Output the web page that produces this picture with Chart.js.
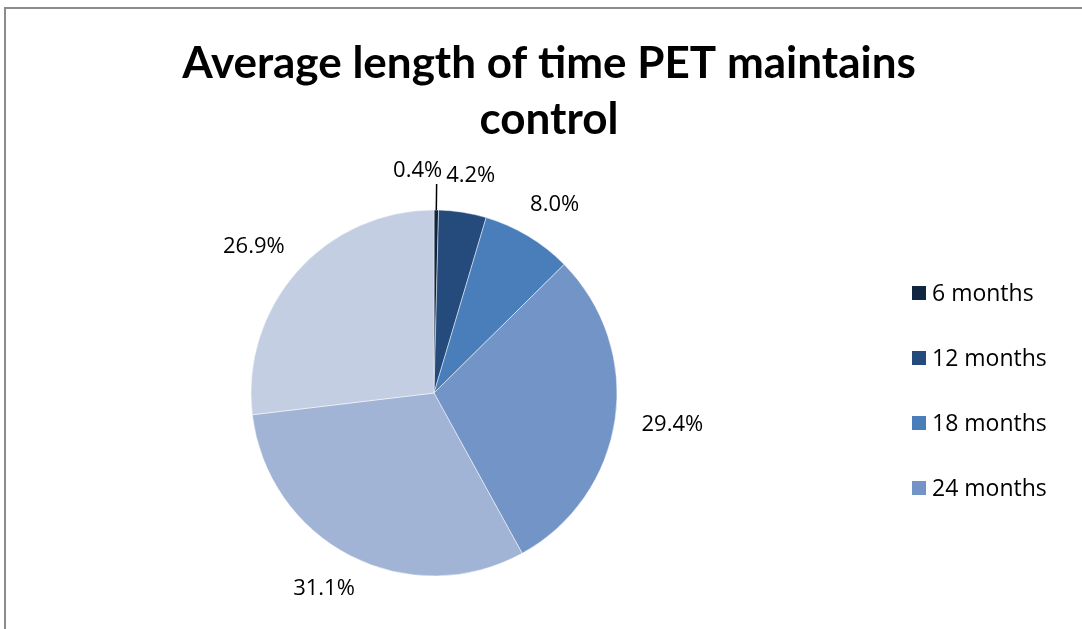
<!DOCTYPE html>
<html>
<head>
<meta charset="utf-8">
<script src="https://cdn.jsdelivr.net/npm/chart.js@4/dist/chart.umd.min.js"></script>
<style>
  html, body { margin: 0; padding: 0; background: #fff; overflow: hidden; }
  #frame { position: absolute; left: 4px; top: 7px; width: 1200px; height: 800px; border: 2px solid #8c8c8c; }
  #wrap { position: absolute; left: 8px; top: 0; width: 1082px; height: 700px; }
</style>
</head>
<body>
<div id="frame"></div>
<div id="wrap"><canvas id="pieChart" width="1082" height="700"></canvas></div>
<script>
// pie data
const categories = ['6 months', '12 months', '18 months', '24 months', '30 months', '36 months'];
const shares = [0.4, 4.2, 8.0, 29.4, 31.1, 26.9];
const sliceColors = ['#10253f', '#254a7c', '#4a7ebb', '#7394c6', '#a2b4d6', '#c3cee3'];
const titleLines = ['Average length of time PET maintains', 'control'];
const legendShown = 4; // the reference legend is clipped after 4 entries

const FONT = '"Open Sans", Lato, sans-serif';

// title centred on the whole frame, not on the pie area
const frameTitle = {
  id: 'frameTitle',
  afterDraw(chart) {
    const ctx = chart.ctx;
    ctx.save();
    ctx.font = 'bold 44px Lato, sans-serif';
    ctx.fillStyle = '#000';
    ctx.textAlign = 'center';
    ctx.textBaseline = 'alphabetic';
    titleLines.forEach((line, i) => ctx.fillText(line, 541, 78 + i * 56));
    ctx.restore();
  }
};

// outside-end percent labels, with a leader line for the tiny slice
const pieLabels = {
  id: 'pieLabels',
  afterDatasetsDraw(chart) {
    const ctx = chart.ctx;
    const meta = chart.getDatasetMeta(0);
    ctx.save();
    ctx.font = '22px ' + FONT;
    ctx.fillStyle = '#000';
    ctx.textAlign = 'center';
    ctx.textBaseline = 'middle';
    meta.data.forEach((arc, i) => {
      const { x, y, outerRadius, startAngle, endAngle } = arc.getProps(['x', 'y', 'outerRadius', 'startAngle', 'endAngle'], true);
      const mid = (startAngle + endAngle) / 2;
      const dx = Math.cos(mid), dy = Math.sin(mid);
      const text = shares[i].toFixed(1) + '%';
      const halfW = ctx.measureText(text).width / 2;
      const halfH = 10;
      if (shares[i] < 1) {
        const x0 = x + outerRadius * dx, y0 = y + outerRadius * dy;
        const x1 = x + (outerRadius + 26) * dx, y1 = y + (outerRadius + 26) * dy;
        ctx.strokeStyle = '#000';
        ctx.lineWidth = 1.5;
        ctx.beginPath();
        ctx.moveTo(x0, y0);
        ctx.lineTo(x1, y1);
        ctx.stroke();
        ctx.fillText(text, x1 - 19, y1 - 13);
      } else {
        const gap = 27;
        const px = x + (outerRadius + gap) * dx;
        const py = y + (outerRadius + gap) * dy;
        ctx.fillText(text, px + dx * halfW, py + dy * halfH);
      }
    });
    ctx.restore();
  }
};

// legend on the right, only the visible entries
const sideLegend = {
  id: 'sideLegend',
  afterDraw(chart) {
    const ctx = chart.ctx;
    ctx.save();
    ctx.font = '23px ' + FONT;
    ctx.textBaseline = 'middle';
    ctx.textAlign = 'left';
    for (let i = 0; i < legendShown; i++) {
      const cy = 293 + i * 65;
      ctx.fillStyle = sliceColors[i];
      ctx.fillRect(904, cy - 7, 14, 14);
      ctx.fillStyle = '#000';
      ctx.fillText(categories[i], 924, cy + 1);
    }
    ctx.restore();
  }
};

new Chart(document.getElementById('pieChart'), {
  type: 'pie',
  data: {
    labels: categories,
    datasets: [{
      data: shares,
      backgroundColor: sliceColors,
      borderColor: 'rgba(255,255,255,0.6)',
      borderWidth: 0.8,
      radius: 183
    }]
  },
  options: {
    responsive: false,
    animation: false,
    events: [],
    layout: { padding: { left: 243, right: 473, top: 210, bottom: 124 } },
    plugins: {
      legend: { display: false },
      tooltip: { enabled: false },
      title: { display: false }
    }
  },
  plugins: [pieLabels, sideLegend, frameTitle]
});
</script>
</body>
</html>
